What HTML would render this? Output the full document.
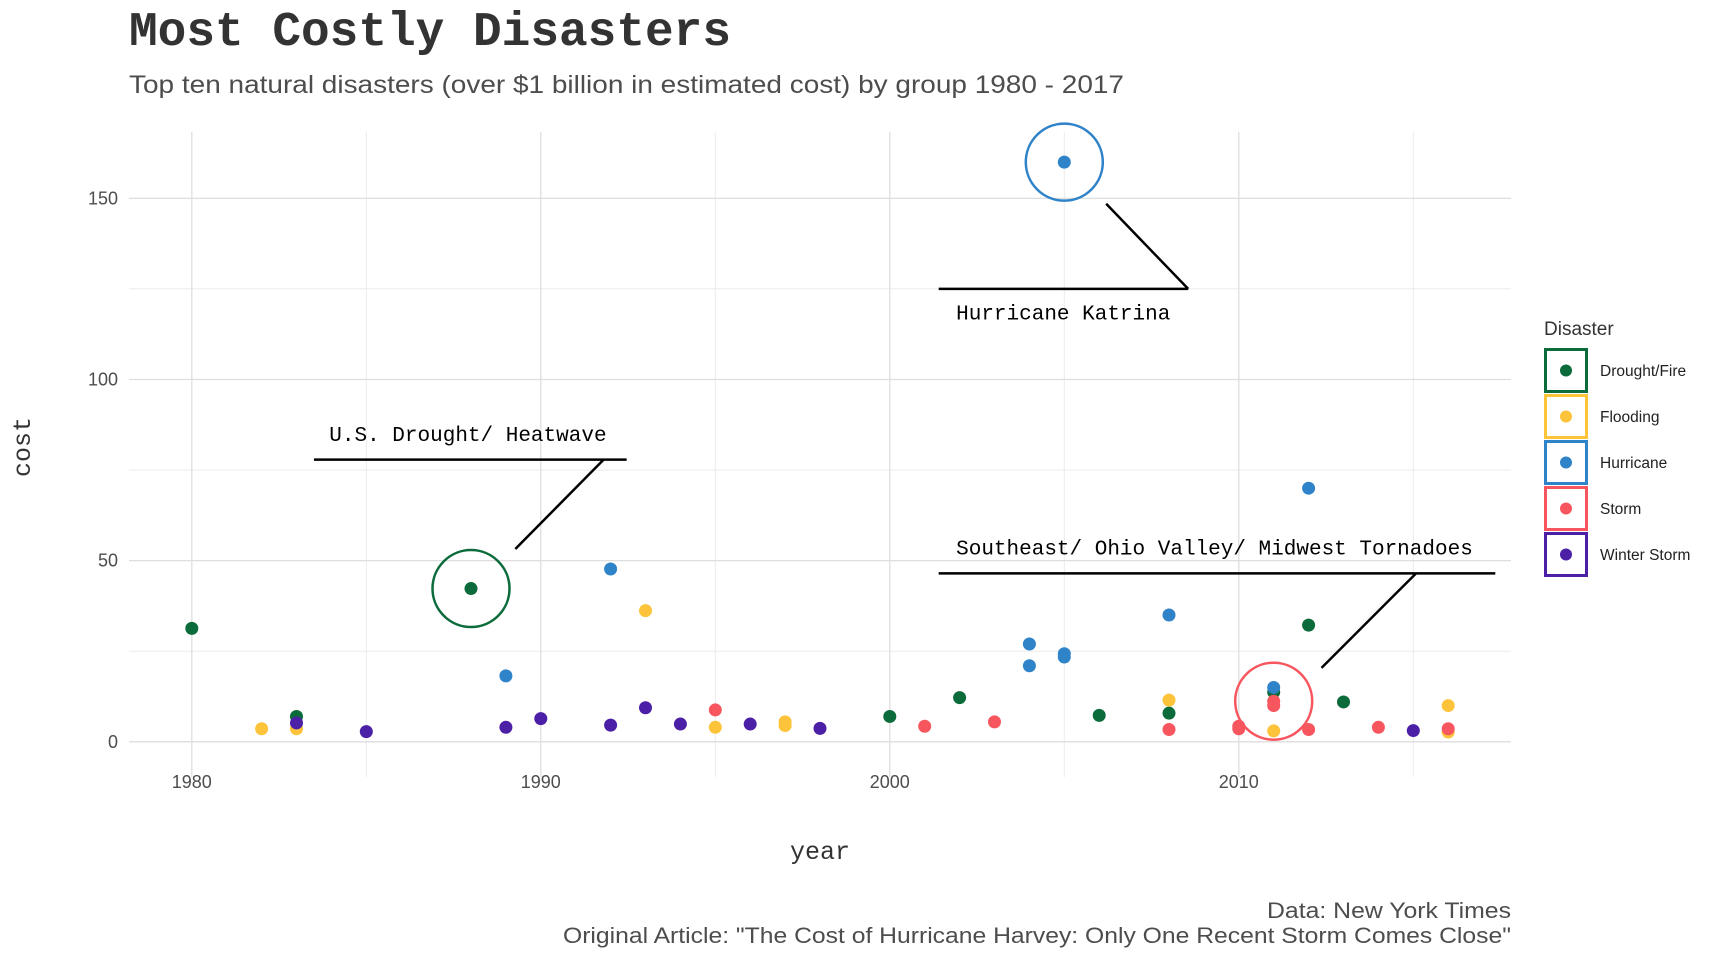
<!DOCTYPE html>
<html><head><meta charset="utf-8">
<style>
html,body{margin:0;padding:0;background:#fff;}
body{width:1728px;height:960px;overflow:hidden;position:relative;}
svg{position:absolute;left:0;top:0;}
</style></head>
<body>
<svg id="chart" width="1728" height="960" viewBox="0 0 1728 960" xmlns="http://www.w3.org/2000/svg">
  <text x="129" y="45" font-family="Liberation Mono, monospace" font-weight="bold" font-size="48" fill="#333" textLength="602" lengthAdjust="spacingAndGlyphs">Most Costly Disasters</text>
  <text x="129" y="93" font-family="Liberation Sans, sans-serif" font-size="25" fill="#4d4d4d" textLength="995" lengthAdjust="spacingAndGlyphs">Top ten natural disasters (over $1 billion in estimated cost) by group 1980 - 2017</text>
  <g id="grid"></g>
  <g id="annot"></g>
  <g id="points"></g>
  <g id="axes"></g>
  <text x="820" y="859" text-anchor="middle" font-family="Liberation Mono, monospace" font-size="25" fill="#333">year</text>
  <text transform="translate(30,447) rotate(-90)" text-anchor="middle" font-family="Liberation Mono, monospace" font-size="25" fill="#333">cost</text>
  <g id="legend">
    <text x="1544" y="335" font-family="Liberation Sans, sans-serif" font-size="19" fill="#333">Disaster</text>
  </g>
  <text x="1511" y="918" text-anchor="end" font-family="Liberation Sans, sans-serif" font-size="22" fill="#4d4d4d" textLength="244" lengthAdjust="spacingAndGlyphs">Data: New York Times</text>
  <text x="1511" y="943" text-anchor="end" font-family="Liberation Sans, sans-serif" font-size="22" fill="#4d4d4d" textLength="948" lengthAdjust="spacingAndGlyphs">Original Article: "The Cost of Hurricane Harvey: Only One Recent Storm Comes Close"</text>
</svg>
<script>
const groups = ["Drought/Fire","Flooding","Hurricane","Storm","Winter Storm"];
const groupColors = ["#0b6b3a","#fdc33b","#2f83c8","#f8565f","#4b1fa6"];
const droughtYears = [1980,1983,1988,2000,2002,2006,2008,2011,2012,2013];
const droughtCost  = [31.3,7,42.3,7,12.2,7.3,7.9,13.7,32.2,11];
const floodYears = [1982,1983,1993,1995,1997,1997,2008,2011,2016,2016];
const floodCost  = [3.6,3.6,36.2,4,5.5,4.5,11.5,3,10,2.7];
const hurricaneYears = [1989,1992,2004,2004,2005,2005,2005,2008,2011,2012];
const hurricaneCost  = [18.2,47.7,27,21,24.3,23.4,160,35,15,70];
const stormYears = [1995,2001,2003,2008,2010,2010,2011,2011,2012,2014,2016];
const stormCost  = [8.8,4.3,5.5,3.4,4.3,3.6,11.2,10,3.4,4,3.6];
const winterYears = [1983,1985,1989,1990,1992,1993,1994,1996,1998,2015];
const winterCost  = [5.2,2.8,4,6.4,4.6,9.4,4.9,4.9,3.7,3.1];
const xTicks = [1980,1990,2000,2010];
const yTicks = [0,50,100,150];
const yMinor = [25,75,125];
const xMinor = [1985,1995,2005,2015];
const annotLabels = ["U.S. Drought/ Heatwave","Hurricane Katrina","Southeast/ Ohio Valley/ Midwest Tornadoes"];
const annotFocusYear = [1988,2005,2011];
const annotFocusCost = [42.3,160,11.2];
const annotTextYear = [1983.94,2001.9,2001.9];
const annotTextCost = [83,116.5,51.7];
const annotLineYears = [[1989.27,1991.8,1983.5,1992.46],[2006.2,2008.55,2001.4,2008.55],[2012.37,2015.08,2001.4,2017.35]];
const annotLineCosts = [[53.2,77.9,77.9,77.9],[148.5,125,125,125],[20.4,46.5,46.5,46.5]];
const annotColor = [0,2,3];

const x = y => 191.8 + (y-1980)*34.9;
const yv = v => 741.8 - v*3.623;
const NS="http://www.w3.org/2000/svg";
function mk(tag, parent, attrs){const e=document.createElementNS(NS,tag);for(const k in attrs)e.setAttribute(k,attrs[k]);parent.appendChild(e);return e;}
const grid=document.getElementById('grid'), axes=document.getElementById('axes');
const L=129,R=1511,T=132,B=777;
yMinor.forEach(v=>{const l=mk('line',grid,{x1:L,x2:R,y1:yv(v),y2:yv(v),stroke:'#ebebeb','stroke-width':1});

});
xMinor.forEach(v=>{const l=mk('line',grid,{x1:x(v),x2:x(v),y1:T,y2:B,stroke:'#ebebeb','stroke-width':1});

});
yTicks.forEach(v=>{const l=mk('line',grid,{x1:L,x2:R,y1:yv(v),y2:yv(v),stroke:'#dedede','stroke-width':1.3});


const t=mk('text',axes,{x:118,y:yv(v)+6,'text-anchor':'end','font-family':'Liberation Sans, sans-serif','font-size':18,fill:'#4d4d4d'});t.textContent=v;

});
xTicks.forEach(v=>{const l=mk('line',grid,{x1:x(v),x2:x(v),y1:T,y2:B,stroke:'#dedede','stroke-width':1.3});


const t=mk('text',axes,{x:x(v),y:788,'text-anchor':'middle','font-family':'Liberation Sans, sans-serif','font-size':18,fill:'#4d4d4d'});t.textContent=v;

});

const annot=document.getElementById('annot');
annotLabels.forEach((lab,i)=>{
  const c=mk('circle',annot,{cx:x(annotFocusYear[i]),cy:yv(annotFocusCost[i]),r:38.5,fill:'none',stroke:groupColors[annotColor[i]],'stroke-width':2.5});
  
  
  const ys=annotLineYears[i], cs=annotLineCosts[i];
  const p=mk('path',annot,{d:`M${x(ys[0])},${yv(cs[0])} L${x(ys[1])},${yv(cs[1])} M${x(ys[2])},${yv(cs[2])} L${x(ys[3])},${yv(cs[3])}`,fill:'none',stroke:'#000','stroke-width':2.5});
  
  
  const t=mk('text',annot,{x:x(annotTextYear[i]),y:yv(annotTextCost[i]),'font-family':'Liberation Mono, monospace','font-size':21,fill:'#000'});t.textContent=lab;
  
  
});

const pts=document.getElementById('points');
const series=[[droughtYears,droughtCost],[floodYears,floodCost],[hurricaneYears,hurricaneCost],[stormYears,stormCost],[winterYears,winterCost]];
series.forEach((s,gi)=>{s[0].forEach((yr,j)=>{
  const c=mk('circle',pts,{cx:x(yr),cy:yv(s[1][j]),r:6.5,fill:groupColors[gi]});
  
  
});});

const leg=document.getElementById('legend');
groups.forEach((g,i)=>{
  const y0=348+i*46;
  const r=mk('rect',leg,{x:1545.5,y:y0+1.5,width:41,height:42,fill:'#fff',stroke:groupColors[i],'stroke-width':3});
  
  
  const c=mk('circle',leg,{cx:1566,cy:y0+22.5,r:6,fill:groupColors[i]});
  
  
  const t=mk('text',leg,{x:1600,y:y0+28,'font-family':'Liberation Sans, sans-serif','font-size':15.5,fill:'#222'});t.textContent=g;
  
  
});
</script>
</body></html>
